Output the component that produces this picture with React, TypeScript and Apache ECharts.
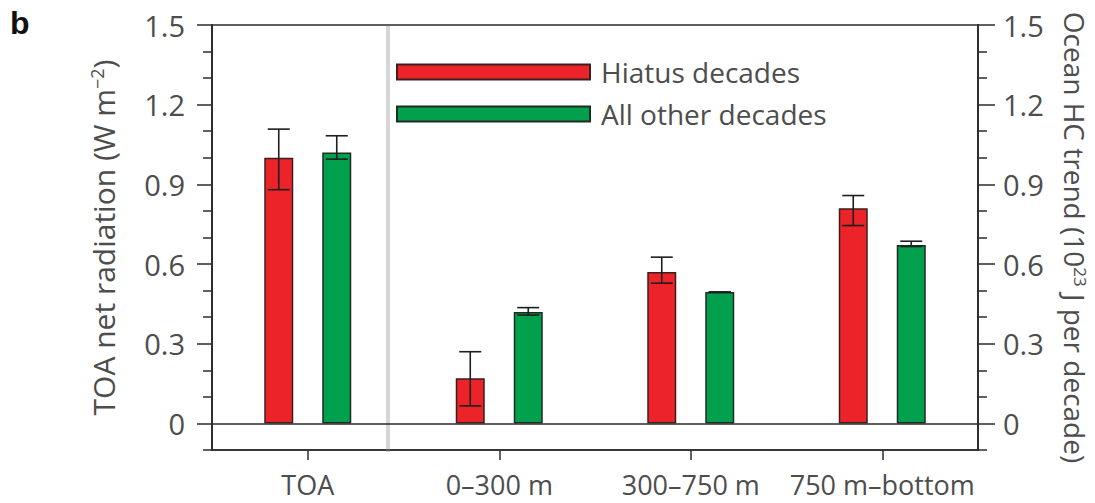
import React, { useEffect, useRef } from "react";
import * as echarts from "echarts";

const categories = ["TOA", "0\u2013300 m", "300\u2013750 m", "750 m\u2013bottom"];
const hiatus = [1.0, 0.17, 0.57, 0.81];
const hiatusLow = [0.88, 0.066, 0.528, 0.745];
const hiatusHigh = [1.108, 0.27, 0.626, 0.858];
const other = [1.02, 0.42, 0.495, 0.672];
const otherLow = [0.995, 0.408, 0.495, 0.666];
const otherHigh = [1.083, 0.436, 0.495, 0.686];
const majorTicks = [0, 0.3, 0.6, 0.9, 1.2, 1.5];
const minorTicks = [-0.1, 0.1, 0.2, 0.4, 0.5, 0.7, 0.8, 1.0, 1.1, 1.3, 1.4];

const FONT = "Open Sans";
const TEXT = "#4d4d4d";
const LINE = "#2b2b2b";
const RED = "#ec2329";
const GREEN = "#00a04c";
const BAR_W = 29;

function errorSeries(name: string, low: number[], high: number[], shift: number) {
  return {
    name,
    type: "custom",
    z: 10,
    silent: true,
    data: categories.map((_, i) => [i, low[i], high[i]]),
    encode: { x: 0, y: [1, 2] },
    renderItem: (params: any, api: any) => {
      const i = api.value(0);
      const lo = api.coord([i, api.value(1)]);
      const hi = api.coord([i, api.value(2)]);
      const x = lo[0] + shift;
      const cap = 11;
      const style = { stroke: "#1e1e1e", lineWidth: 1.6 };
      return {
        type: "group",
        children: [
          { type: "line", shape: { x1: x, y1: lo[1], x2: x, y2: hi[1] }, style },
          { type: "line", shape: { x1: x - cap, y1: lo[1], x2: x + cap, y2: lo[1] }, style },
          { type: "line", shape: { x1: x - cap, y1: hi[1], x2: x + cap, y2: hi[1] }, style },
        ],
      };
    },
  };
}

function nameStyle(size: number, supSize: number) {
  return {
    fontSize: size,
    color: TEXT,
    fontFamily: FONT,
    rich: {
      n: { fontSize: size, lineHeight: size, color: TEXT, fontFamily: FONT },
      sup: { fontSize: supSize, lineHeight: Math.round(size * 0.46), verticalAlign: "top", color: TEXT, fontFamily: FONT },
    },
  };
}

export default function App() {
  const ref = useRef<HTMLDivElement>(null);
  useEffect(() => {
    if (!ref.current) return;
    const chart = echarts.init(ref.current, null, { renderer: "svg" });
    const axisCommon = {
      type: "value",
      min: -0.1,
      max: 1.5,
      splitLine: { show: false },
      axisLine: { show: true, onZero: false, lineStyle: { color: LINE, width: 1.5 } },
    };
    const labelStyle = { fontSize: 29, color: TEXT, fontFamily: FONT };
    chart.setOption({
      animation: false,
      grid: {
        left: 212,
        right: 117,
        top: 25,
        bottom: 53,
        show: true,
        borderColor: LINE,
        borderWidth: 1.5,
        containLabel: false,
        outerBoundsMode: "none",
      },
      legend: {
        data: ["Hiatus decades", "All other decades"],
        orient: "vertical",
        left: 396,
        top: 58,
        padding: 0,
        itemWidth: 193,
        itemHeight: 15,
        itemGap: 14,
        icon: "rect",
        textStyle: { fontSize: 28, color: TEXT, fontFamily: FONT, padding: [0, 0, 0, 6] },
      },
      xAxis: {
        type: "category",
        data: categories,
        axisLine: { show: true, onZero: false, lineStyle: { color: LINE, width: 1.5 } },
        axisTick: { show: true, alignWithLabel: true, length: 10, lineStyle: { color: LINE, width: 1.5 } },
        axisLabel: { fontSize: 27, color: TEXT, fontFamily: FONT, interval: 0, margin: 22, lineHeight: 24 },
      },
      yAxis: [
        {
          ...axisCommon,
          position: "left",
          name: "{n|TOA net radiation (W m}{sup|\u22122}{n|)}",
          nameLocation: "middle",
          nameRotate: 90,
          nameGap: 94,
          nameTextStyle: nameStyle(30, 18),
          axisTick: { show: true, length: 15, customValues: majorTicks, lineStyle: { color: LINE, width: 1.5 } },
          axisLabel: { ...labelStyle, margin: 27, customValues: majorTicks },
        },
        {
          ...axisCommon,
          position: "left",
          axisTick: { show: true, length: 9, customValues: minorTicks, lineStyle: { color: LINE, width: 1.5 } },
          axisLabel: { show: false },
        },
        {
          ...axisCommon,
          position: "right",
          name: "{n|Ocean HC trend (10}{sup|23}{n| J per decade)}",
          nameLocation: "middle",
          nameRotate: -90,
          nameGap: 83,
          nameTextStyle: nameStyle(28, 17),
          axisTick: { show: true, length: 17, customValues: majorTicks, lineStyle: { color: LINE, width: 1.5 } },
          axisLabel: { ...labelStyle, margin: 25, customValues: majorTicks },
        },
        {
          ...axisCommon,
          position: "right",
          axisTick: { show: true, length: 9, customValues: minorTicks, lineStyle: { color: LINE, width: 1.5 } },
          axisLabel: { show: false },
        },
      ],
      graphic: [
        {
          type: "rect",
          z: 0,
          silent: true,
          shape: { x: 386, y: 26, width: 4, height: 426 },
          style: { fill: "#d6d6d6" },
        },
        {
          type: "text",
          left: 10,
          top: 7,
          style: { text: "b", fontSize: 32, fontWeight: "bold", fill: "#111", fontFamily: "Liberation Sans" },
        },
      ],
      series: [
        {
          name: "Hiatus decades",
          type: "bar",
          data: hiatus,
          barWidth: BAR_W,
          barGap: "100%",
          itemStyle: { color: RED, borderColor: "#3a1f1f", borderWidth: 1.5 },
          markLine: {
            silent: true,
            symbol: "none",
            label: { show: false },
            lineStyle: { color: LINE, width: 1.5, type: "solid" },
            data: [{ yAxis: 0 }],
          },
        },
        {
          name: "All other decades",
          type: "bar",
          data: other,
          barWidth: BAR_W,
          barGap: "100%",
          itemStyle: { color: GREEN, borderColor: "#1f2a22", borderWidth: 1.5 },
        },
        errorSeries("errHiatus", hiatusLow, hiatusHigh, -BAR_W),
        errorSeries("errOther", otherLow, otherHigh, BAR_W),
      ],
    });
    return () => chart.dispose();
  }, []);
  return (
    <div
      ref={ref}
      style={{ position: "fixed", left: 0, top: 0, width: 1095, height: 503, background: "#fff" }}
    />
  );
}
